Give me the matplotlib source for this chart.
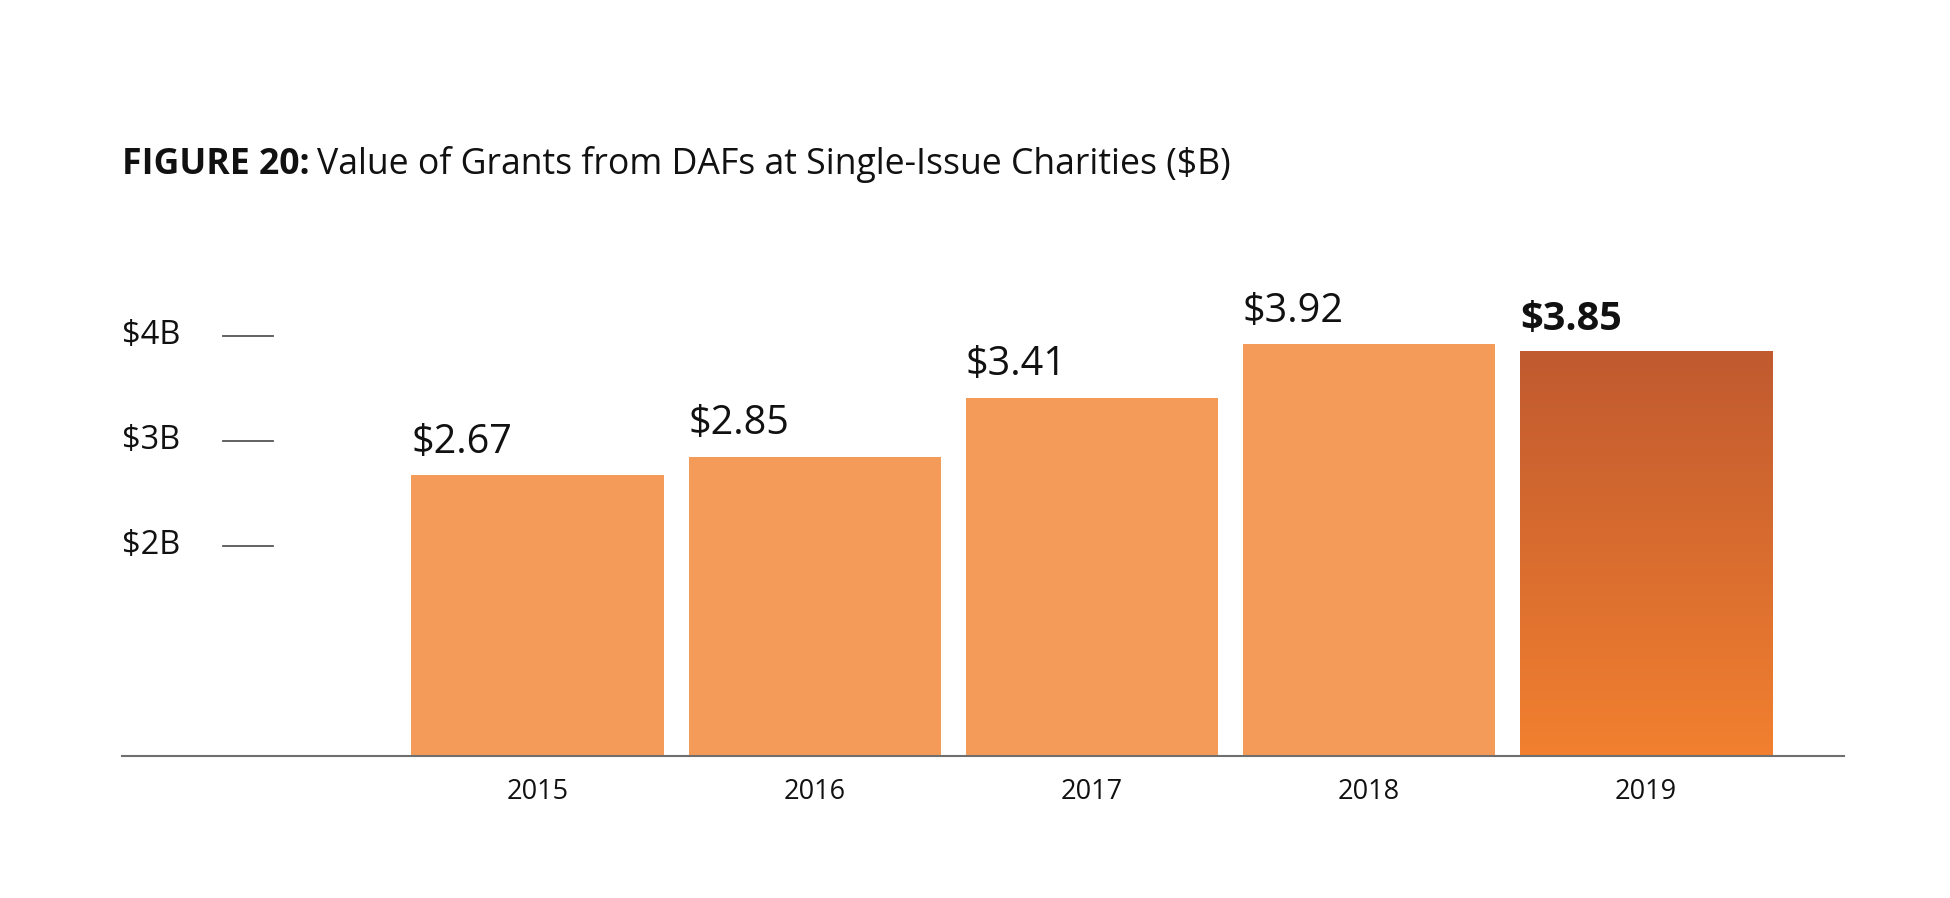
import matplotlib
matplotlib.use("Agg")
import matplotlib.pyplot as plt
import matplotlib.transforms as mtransforms
import numpy as np

plt.rcParams['font.family'] = ['Open Sans', 'DejaVu Sans']

years = ['2015', '2016', '2017', '2018', '2019']
values = [2.67, 2.85, 3.41, 3.92, 3.85]
value_labels = ['$2.67', '$2.85', '$3.41', '$3.92', '$3.85']
ytick_vals = [2, 3, 4]
ytick_labels = ['$2B', '$3B', '$4B']

bar_color = '#F59B5A'
grad_top = '#C05A30'
grad_bottom = '#F2802F'

fig = plt.figure(figsize=(19.5, 8.98), dpi=100)
fig.set_facecolor('white')
ax = fig.add_axes([0.0625, 0.158, 0.8832, 0.5853])

x = np.arange(len(years))
bars = ax.bar(x, values, width=0.91, color=bar_color, zorder=2)

# gradient fill for the last bar
last = bars[-1]
last.set_facecolor('none')
bx, by = last.get_x(), last.get_y()
bw, bh = last.get_width(), last.get_height()
c1 = np.array(matplotlib.colors.to_rgb(grad_top))
c2 = np.array(matplotlib.colors.to_rgb(grad_bottom))
t = np.linspace(0, 1, 256)[:, None]
grad = (c1 * (1 - t) + c2 * t)[:, None, :]
im = ax.imshow(grad, extent=[bx, bx + bw, by, by + bh], aspect='auto',
               origin='upper', zorder=2)
im.set_clip_path(last)

ax.set_xlim(-1.5, 4.715)
ax.set_ylim(0, 5)

for s in ['top', 'right', 'left']:
    ax.spines[s].set_visible(False)
ax.spines['bottom'].set_color('#6f6f6f')
ax.spines['bottom'].set_linewidth(1.5)
ax.spines['bottom'].set_zorder(3)
ax.set_yticks([])
ax.set_xticks(x)
ax.set_xticklabels(years, fontsize=19.5, color='#111111')
ax.tick_params(axis='x', length=0, pad=16)

# y tick labels and short marks
trans = mtransforms.blended_transform_factory(ax.transAxes, ax.transData)
for v, lab in zip(ytick_vals, ytick_labels):
    ax.text(0.0, v, lab, transform=trans, ha='left', va='center',
            fontsize=23.5, color='#111111')
    ax.plot([0.059, 0.088], [v, v], transform=trans, color='#555555',
            lw=1.3, clip_on=False)

# value labels
for i, (b, lab) in enumerate(zip(bars, value_labels)):
    bold = i == len(bars) - 1
    ax.annotate(lab, (b.get_x(), b.get_height()), xytext=(0, 9),
                textcoords='offset points', ha='left', va='bottom',
                fontsize=28.5, color='#111111',
                fontweight='bold' if bold else 'normal')

t1 = fig.text(0.0625, 0.806, 'FIGURE 20:', fontsize=25.7, fontweight='bold',
              color='#111111', ha='left', va='baseline')
fig.canvas.draw()
ext = t1.get_window_extent()
fig.text(ext.x1 / fig.bbox.width + 0.004, 0.806,
         'Value of Grants from DAFs at Single-Issue Charities ($B)',
         fontsize=25.7, color='#111111', ha='left', va='baseline')

plt.savefig('out.png', dpi=100, facecolor='white')
plt.close()
